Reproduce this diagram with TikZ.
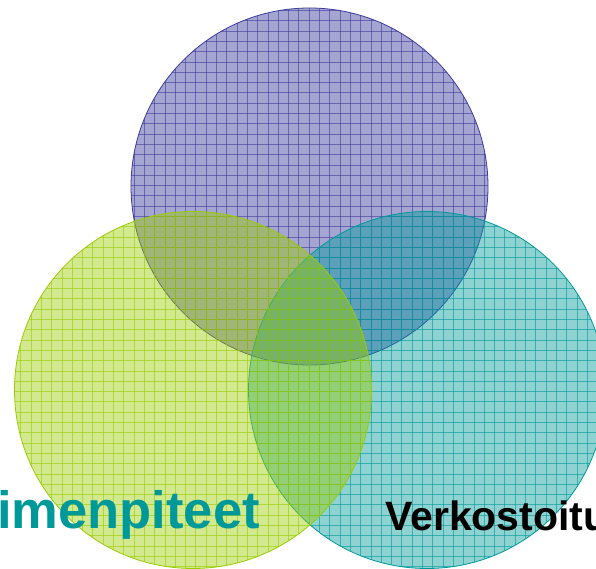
\documentclass[tikz,border=0pt]{standalone}
\usepackage{fontspec}
\setmainfont{Liberation Sans}
\definecolor{topfill}{HTML}{333399}
\definecolor{topline}{HTML}{3B3B9E}
\definecolor{leftfill}{HTML}{99CC00}
\definecolor{leftline}{HTML}{99CC00}
\definecolor{rightfill}{HTML}{009999}
\definecolor{rightline}{HTML}{009999}
\definecolor{tealtext}{HTML}{009999}
\tikzset{
  gridline/.style={line width=0.5pt, opacity=0.6},
  rim/.style={line width=0.8pt},
}
\newcommand{\gridcircle}[4]{% x, y, fillcolor, linecolor
  \begin{scope}
    \clip (#1,#2) circle[radius=178.5];
    \fill[#3, opacity=0.44] (#1,#2) circle[radius=178.5];
    \foreach \gx in {0,10.3,...,610} {\draw[#4, gridline] (\gx,0) -- (\gx,580);}
    \foreach \gy in {0,10.3,...,580} {\draw[#4, gridline] (0,\gy) -- (610,\gy);}
  \end{scope}
  \draw[#4, rim] (#1,#2) circle[radius=178.5];
}
\begin{document}
\begin{tikzpicture}[x=1pt,y=-1pt]
  \useasboundingbox (0,0) rectangle (596,569);
  \clip (0,0) rectangle (596,569);
  \coordinate (ctop) at (309.5,186.5);
  \coordinate (cleft) at (193,390);
  \coordinate (cright) at (427,390);
  \gridcircle{309.5}{186.5}{topfill}{topline}
  \gridcircle{427}{390}{rightfill}{rightline}
  \gridcircle{193}{390}{leftfill}{leftline}
  \node[anchor=base east, inner sep=0pt, font=\bfseries\fontsize{52.5}{52.5}\selectfont, text=tealtext] (t1) at (260,528) {imenpiteet};
  \node[anchor=base west, inner sep=0pt, font=\bfseries\fontsize{41}{41}\selectfont, text=black] (t2) at (385,530) {Verkostoitu};
\end{tikzpicture}
\end{document}
